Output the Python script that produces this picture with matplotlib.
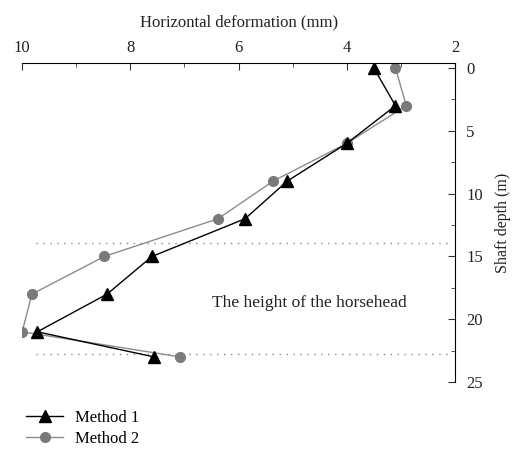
import numpy as np
import matplotlib.pyplot as plt
from matplotlib.ticker import MultipleLocator

plt.rcParams['font.family'] = ['Liberation Serif', 'DejaVu Serif']

depth = [0, 3, 6, 9, 12, 15, 18, 21, 23]
method1 = [3.5, 3.1, 4.0, 5.1, 5.88, 7.6, 8.43, 9.72, 7.56]
method2 = [3.1, 2.9, 4.0, 5.36, 6.38, 8.48, 9.82, 10.0, 7.08]
horsehead_top = 13.9
horsehead_bottom = 22.8

fig = plt.figure(figsize=(5.15, 4.5), dpi=100)
ax = fig.add_axes([0.043, 0.151, 0.8405, 0.709])

ax.plot(method1, depth, color='black', linewidth=1.0, marker='^', markersize=8,
        label='Method 1', zorder=3)
ax.plot(method2, depth, color='#8c8c8c', linewidth=1.0, marker='o', markersize=7,
        markerfacecolor='#7a7a7a', markeredgecolor='#7a7a7a', label='Method 2', zorder=2)

for d in [horsehead_top, horsehead_bottom]:
    ax.plot([9.75, 2.1], [d, d], color='#888888', linestyle=(0, (1, 4)), linewidth=1.0)

ax.text(4.7, 18.7, 'The height of the horsehead', ha='center', va='center', fontsize=12.5, color='#222222')

ax.set_xlim(10, 2)
ax.set_ylim(25, -0.4)
ax.xaxis.set_major_locator(MultipleLocator(2))
ax.xaxis.set_minor_locator(MultipleLocator(1))
ax.yaxis.set_major_locator(MultipleLocator(5))
ax.yaxis.set_minor_locator(MultipleLocator(2.5))
ax.xaxis.tick_top()
ax.xaxis.set_label_position('top')
ax.yaxis.tick_right()
ax.yaxis.set_label_position('right')
ax.spines['left'].set_visible(False)
ax.spines['bottom'].set_visible(False)
ax.tick_params(which='both', direction='in', labelsize=12, color='#333333', labelcolor='#222222')
ax.tick_params(which='major', length=5)
ax.tick_params(which='minor', length=3)
ax.tick_params(axis='x', pad=5)
ax.tick_params(axis='y', pad=8)
ax.set_xlabel('Horizontal deformation (mm)', fontsize=12, labelpad=10, color='#222222')
ax.set_ylabel('Shaft depth (m)', fontsize=11.5, labelpad=9, color='#222222')

ax.legend(loc='upper left', bbox_to_anchor=(-0.025, -0.04), frameon=False, fontsize=12,
          handlelength=2.2, handletextpad=0.7, labelspacing=0.3)

fig.savefig('out.png', dpi=100)
